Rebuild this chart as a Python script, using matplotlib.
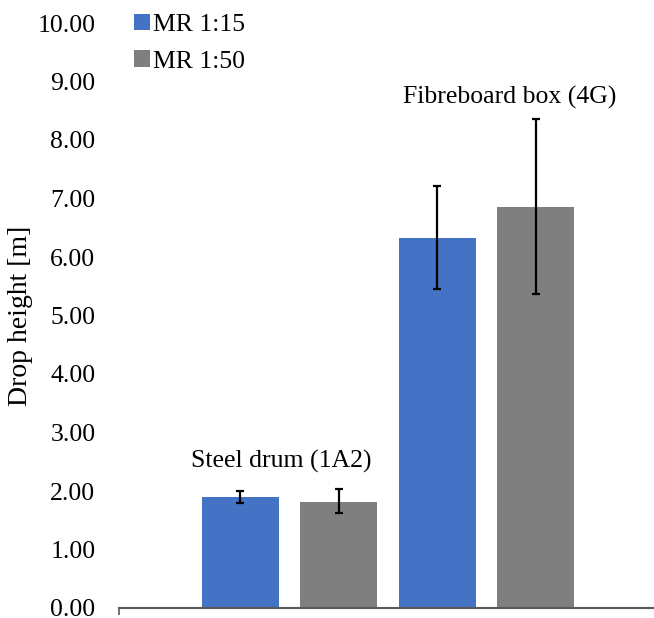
import matplotlib
matplotlib.use("Agg")
import matplotlib.pyplot as plt

series = ["MR 1:15", "MR 1:50"]
groups = ["Steel drum (1A2)", "Fibreboard box (4G)"]
# heights [m] per group, per series
heights = [[1.89, 1.82], [6.33, 6.86]]
err_low = [[1.79, 1.62], [5.46, 5.37]]
err_high = [[2.00, 2.03], [7.21, 8.36]]
yticks = [0, 1, 2, 3, 4, 5, 6, 7, 8, 9, 10]

colors = ["#4472C4", "#7F7F7F"]
plt.rcParams["font.family"] = ["Liberation Serif", "DejaVu Serif"]
fs = 18.5

fig = plt.figure(figsize=(6.54, 6.18), dpi=100)
ax = fig.add_axes([119 / 654, 10 / 618, 538 / 654, 585 / 618])

w = 0.143
step = 0.183
handles = []
for g in range(len(groups)):
    for s in range(len(series)):
        i = g * 2 + s
        x = 0.5 + (i - 1.5) * step
        h = heights[g][s]
        b = ax.bar(x, h, w, color=colors[s], zorder=2)
        ax.errorbar(x, h, yerr=[[h - err_low[g][s]], [err_high[g][s] - h]],
                    fmt="none", ecolor="black", elinewidth=1.6, capsize=2.8,
                    capthick=1.6, zorder=3)
        if g == 0:
            handles.append(b)

ax.text(0.5 - step - 0.015, 2.50, groups[0], ha="center", va="center", fontsize=fs)
ax.text(0.5 + step + 0.043, 8.72, groups[1], ha="center", va="center", fontsize=fs)

ax.set_xlim(0, 1)
ax.set_ylim(0, 10)
ax.set_yticks(yticks)
ax.set_yticklabels([f"{v:.2f}" for v in yticks], fontsize=fs)
ax.tick_params(axis="y", length=0, pad=17)
ax.set_xticks([0])
ax.set_xticklabels([])
ax.tick_params(axis="x", length=5, width=1.2, color="#595959")
for sp in ["top", "right", "left"]:
    ax.spines[sp].set_visible(False)
ax.spines["bottom"].set_color("#595959")
ax.spines["bottom"].set_linewidth(1.5)
ax.set_ylabel("Drop height [m]", fontsize=20)
ax.yaxis.set_label_coords(-0.16, 0.5)

fig.legend(handles, series, loc="upper left", bbox_to_anchor=(120 / 654, 1.0),
           frameon=False, fontsize=fs, handlelength=0.6, handleheight=0.6,
           handletextpad=0.12, labelspacing=0.55, borderaxespad=0.15)

fig.savefig("out.png", dpi=100)
